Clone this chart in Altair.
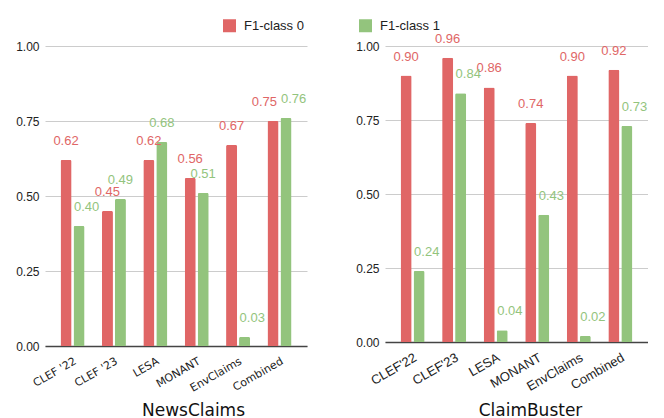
import altair as alt
import pandas as pd

series = ["F1-class 0", "F1-class 1"]
colors = ["#e06666", "#93c47d"]
y_ticks = [0, 0.25, 0.5, 0.75, 1.0]

news_datasets = ["CLEF '22", "CLEF '23", "LESA", "MONANT", "EnvClaims", "Combined"]
news_class0 = [0.62, 0.45, 0.62, 0.56, 0.67, 0.75]
news_class1 = [0.40, 0.49, 0.68, 0.51, 0.03, 0.76]

cb_datasets = ["CLEF'22", "CLEF'23", "LESA", "MONANT", "EnvClaims", "Combined"]
cb_class0 = [0.90, 0.96, 0.86, 0.74, 0.90, 0.92]
cb_class1 = [0.24, 0.84, 0.04, 0.43, 0.02, 0.73]


def make_df(cats, c0, c1):
    rows = []
    for cat, a, b in zip(cats, c0, c1):
        rows.append({"dataset": cat, "metric": series[0], "value": a})
        rows.append({"dataset": cat, "metric": series[1], "value": b})
    return pd.DataFrame(rows)


def panel(df, cats, title, w, h, label_font, label_size, title_x, title_y):
    x = alt.X(
        "dataset:N",
        sort=cats,
        scale=alt.Scale(paddingInner=0.42, paddingOuter=0.375),
        axis=alt.Axis(
            title=title,
            labelAngle=-30,
            ticks=False,
            labelFont=label_font,
            labelFontSize=label_size,
            labelColor="#222222",
            labelPadding=9,
            domainColor="#444444",
            domainWidth=1.3,
            titleFont="DejaVu Sans",
            titleFontSize=17,
            titleFontWeight="normal",
            titleColor="#111111",
            titleX=title_x,
            titleY=title_y,
            titleAlign="center",
            titleBaseline="alphabetic",
        ),
    )
    y = alt.Y(
        "value:Q",
        scale=alt.Scale(domain=[0, 1]),
        axis=alt.Axis(
            title=None,
            values=y_ticks,
            format=".2f",
            ticks=False,
            domain=False,
            gridColor="#cccccc",
            labelFont="Liberation Sans",
            labelFontSize=12,
            labelColor="#222222",
            labelPadding=6,
            minExtent=37,
            maxExtent=37,
        ),
    )
    xo = alt.XOffset("metric:N", sort=series,
                     scale=alt.Scale(paddingInner=0.15, paddingOuter=0))
    color = alt.Color(
        "metric:N",
        sort=series,
        scale=alt.Scale(domain=series, range=colors),
        legend=alt.Legend(
            orient="none",
            legendX=178,
            legendY=-27,
            direction="horizontal",
            title=None,
            symbolType="square",
            symbolSize=169,
            symbolStrokeWidth=0,
            labelFont="Liberation Sans",
            labelFontSize=13,
            labelColor="#222222",
            labelOffset=8,
            columnPadding=55,
        ),
    )
    base = alt.Chart(df).encode(x=x, y=y, xOffset=xo, color=color)
    bars = base.mark_bar(cornerRadiusTopLeft=1.5, cornerRadiusTopRight=1.5)

    # label placement: a label that would collide with the neighbouring bar
    # or label is moved beside it, as the reference does
    lab = (
        base.transform_calculate(
            v0=f"datum.metric == '{series[0]}' ? datum.value : 0",
            v1=f"datum.metric == '{series[1]}' ? datum.value : 0",
        )
        .transform_joinaggregate(r="max(v0)", g="max(v1)", groupby=["dataset"])
        .transform_calculate(
            place=(
                f"datum.metric == '{series[1]}' && "
                "((datum.r - datum.g) > 0.06 || abs(datum.r - datum.g) < 0.03) ? 'left' : "
                f"(datum.metric == '{series[0]}' && abs(datum.r - datum.g) < 0.03 ? 'right' : 'center')"
            )
        )
        .encode(text=alt.Text("value:Q", format=".2f"))
    )
    common = dict(dy=-19, fontSize=13, font="Liberation Sans", baseline="middle")
    lab_c = lab.transform_filter("datum.place == 'center'").mark_text(align="center", **common)
    lab_l = lab.transform_filter("datum.place == 'left'").mark_text(align="left", dx=-5, **common)
    lab_r = lab.transform_filter("datum.place == 'right'").mark_text(align="right", dx=4, **common)
    return (bars + lab_c + lab_l + lab_r).properties(width=w, height=h)


left = panel(make_df(news_datasets, news_class0, news_class1), news_datasets,
             "NewsClaims", 262, 300, "DejaVu Sans", 11, 148, 69)
right = panel(make_df(cb_datasets, cb_class0, cb_class1), cb_datasets,
              "ClaimBuster", 263, 296, "Liberation Sans", 13, 145, 73)

chart = (
    alt.hconcat(left, right, spacing=41)
    .resolve_scale(color="shared")
    .resolve_legend(color="shared")
    .configure(padding={"left": 0, "top": 11, "right": 0, "bottom": 0})
    .configure_view(stroke=None)
)

chart.save("out.html", embed_options={"renderer": "svg", "actions": False})
